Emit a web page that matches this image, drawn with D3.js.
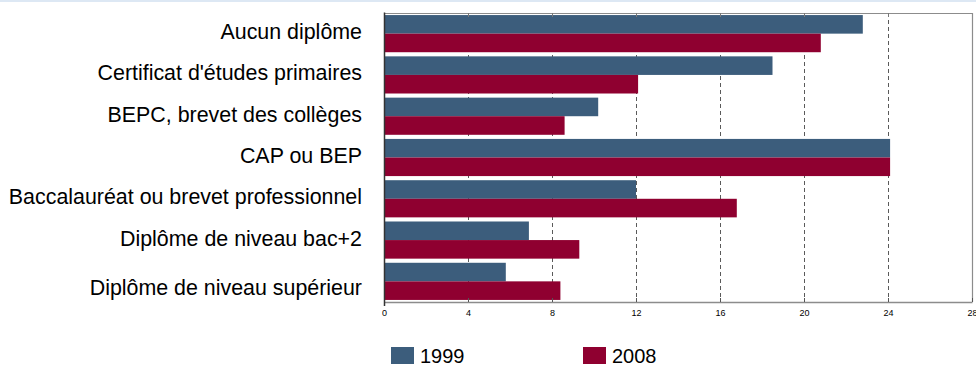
<!DOCTYPE html>
<html>
<head>
<meta charset="utf-8">
<script src="https://cdn.jsdelivr.net/npm/d3@7"></script>
<style>
  html, body { margin: 0; padding: 0; background: #fff; }
  svg { display: block; font-family: "Liberation Sans", Arial, sans-serif; }
</style>
</head>
<body>
<svg id="chart" width="976" height="365"></svg>
<script>
// Diploma categories (top to bottom)
const categories = [
  "Aucun diplôme",
  "Certificat d'études primaires",
  "BEPC, brevet des collèges",
  "CAP ou BEP",
  "Baccalauréat ou brevet professionnel",
  "Diplôme de niveau bac+2",
  "Diplôme de niveau supérieur"
];
const seriesNames = ["1999", "2008"];
const values1999 = [22.8, 18.5, 10.2, 24.1, 12.0, 6.9, 5.8];
const values2008 = [20.8, 12.1, 8.6, 24.1, 16.8, 9.3, 8.4];
const xTicks = [0, 4, 8, 12, 16, 20, 24, 28];
const colors = ["#3c5d7c", "#8f0030"];

const svg = d3.select("#chart");
const W = 976, H = 365;
const plot = { left: 384, right: 972, top: 13, bottom: 302 };

// thin band along the top of the page
svg.append("rect").attr("x", 0).attr("y", 0).attr("width", W).attr("height", 2)
  .attr("fill", "#dde8f4");

const x = d3.scaleLinear().domain([0, 28]).range([plot.left, plot.right]);
const y = d3.scaleBand().domain(categories).range([plot.top, plot.bottom])
  .paddingInner(0.1).paddingOuter(0.05);
const ySub = d3.scaleBand().domain(seriesNames).range([0, y.bandwidth()]);

// dashed vertical gridlines, behind the bars
svg.append("g")
  .selectAll("line")
  .data(xTicks.filter(t => t > 0 && t < 28))
  .join("line")
  .attr("x1", d => Math.round(x(d)) + 0.5)
  .attr("x2", d => Math.round(x(d)) + 0.5)
  .attr("y1", plot.top).attr("y2", plot.bottom)
  .attr("stroke", "#5a5a5a").attr("stroke-width", 1)
  .attr("stroke-dasharray", "4,3");

// bars
const rows = categories.map((c, i) => ({ c, v: [values1999[i], values2008[i]] }));
const groups = svg.append("g").selectAll("g")
  .data(rows).join("g")
  .attr("transform", d => `translate(0,${y(d.c)})`);
groups.selectAll("rect")
  .data(d => d.v.map((v, k) => ({ k, v })))
  .join("rect")
  .attr("x", x(0))
  .attr("y", d => ySub(seriesNames[d.k]))
  .attr("width", d => x(d.v) - x(0))
  .attr("height", ySub.bandwidth())
  .attr("fill", d => colors[d.k]);

// frame: top and right borders
svg.append("line").attr("x1", plot.left).attr("x2", plot.right + 0.5)
  .attr("y1", plot.top + 0.5).attr("y2", plot.top + 0.5)
  .attr("stroke", "#8c8c8c").attr("stroke-width", 1.2);
svg.append("line").attr("x1", plot.right + 0.5).attr("x2", plot.right + 0.5)
  .attr("y1", plot.top).attr("y2", plot.bottom)
  .attr("stroke", "#8c8c8c").attr("stroke-width", 1.2);

// top inner ticks
svg.append("g").selectAll("line")
  .data(xTicks.filter(t => t > 0 && t < 28)).join("line")
  .attr("x1", d => Math.round(x(d)) + 0.5).attr("x2", d => Math.round(x(d)) + 0.5)
  .attr("y1", plot.top).attr("y2", plot.top + 4)
  .attr("stroke", "#777");

// bottom axis with inward ticks
const xAxis = d3.axisBottom(x).tickValues(xTicks).tickFormat(d3.format("d"))
  .tickSizeInner(-4).tickSizeOuter(0).tickPadding(8);
const gx = svg.append("g").attr("transform", `translate(0,${plot.bottom})`).call(xAxis);
gx.select(".domain").attr("stroke", "#8c8c8c").attr("stroke-width", 1.5);
gx.selectAll(".tick line").attr("stroke", "#555");
gx.selectAll(".tick text").attr("font-size", 9).attr("fill", "#000")
  .attr("font-family", "'Liberation Sans', Arial, sans-serif");

// left axis line
svg.append("line").attr("x1", plot.left + 0.5).attr("x2", plot.left + 0.5)
  .attr("y1", plot.top - 0.5).attr("y2", plot.bottom + 4)
  .attr("stroke", "#333").attr("stroke-width", 1.5);

// category labels; the last one sits lower, level with its 2008 bar
svg.append("g").selectAll("text")
  .data(categories).join("text")
  .attr("x", 362)
  .attr("y", (d, i) => y(d) + y.bandwidth() / 2 - 2 + (i === categories.length - 1 ? 8 : 0))
  .attr("dy", "0.35em")
  .attr("text-anchor", "end")
  .attr("font-size", 21.4)
  .attr("fill", "#000")
  .text(d => d);

// legend
const legendX = [391, 583];
const lg = svg.append("g").selectAll("g")
  .data(seriesNames).join("g")
  .attr("transform", (d, i) => `translate(${legendX[i]},347)`);
lg.append("rect").attr("width", 23).attr("height", 17)
  .attr("fill", (d, i) => colors[i]);
lg.append("text").attr("x", 29).attr("y", 16)
  .attr("font-size", 20).attr("fill", "#000").text(d => d);
</script>
</body>
</html>
